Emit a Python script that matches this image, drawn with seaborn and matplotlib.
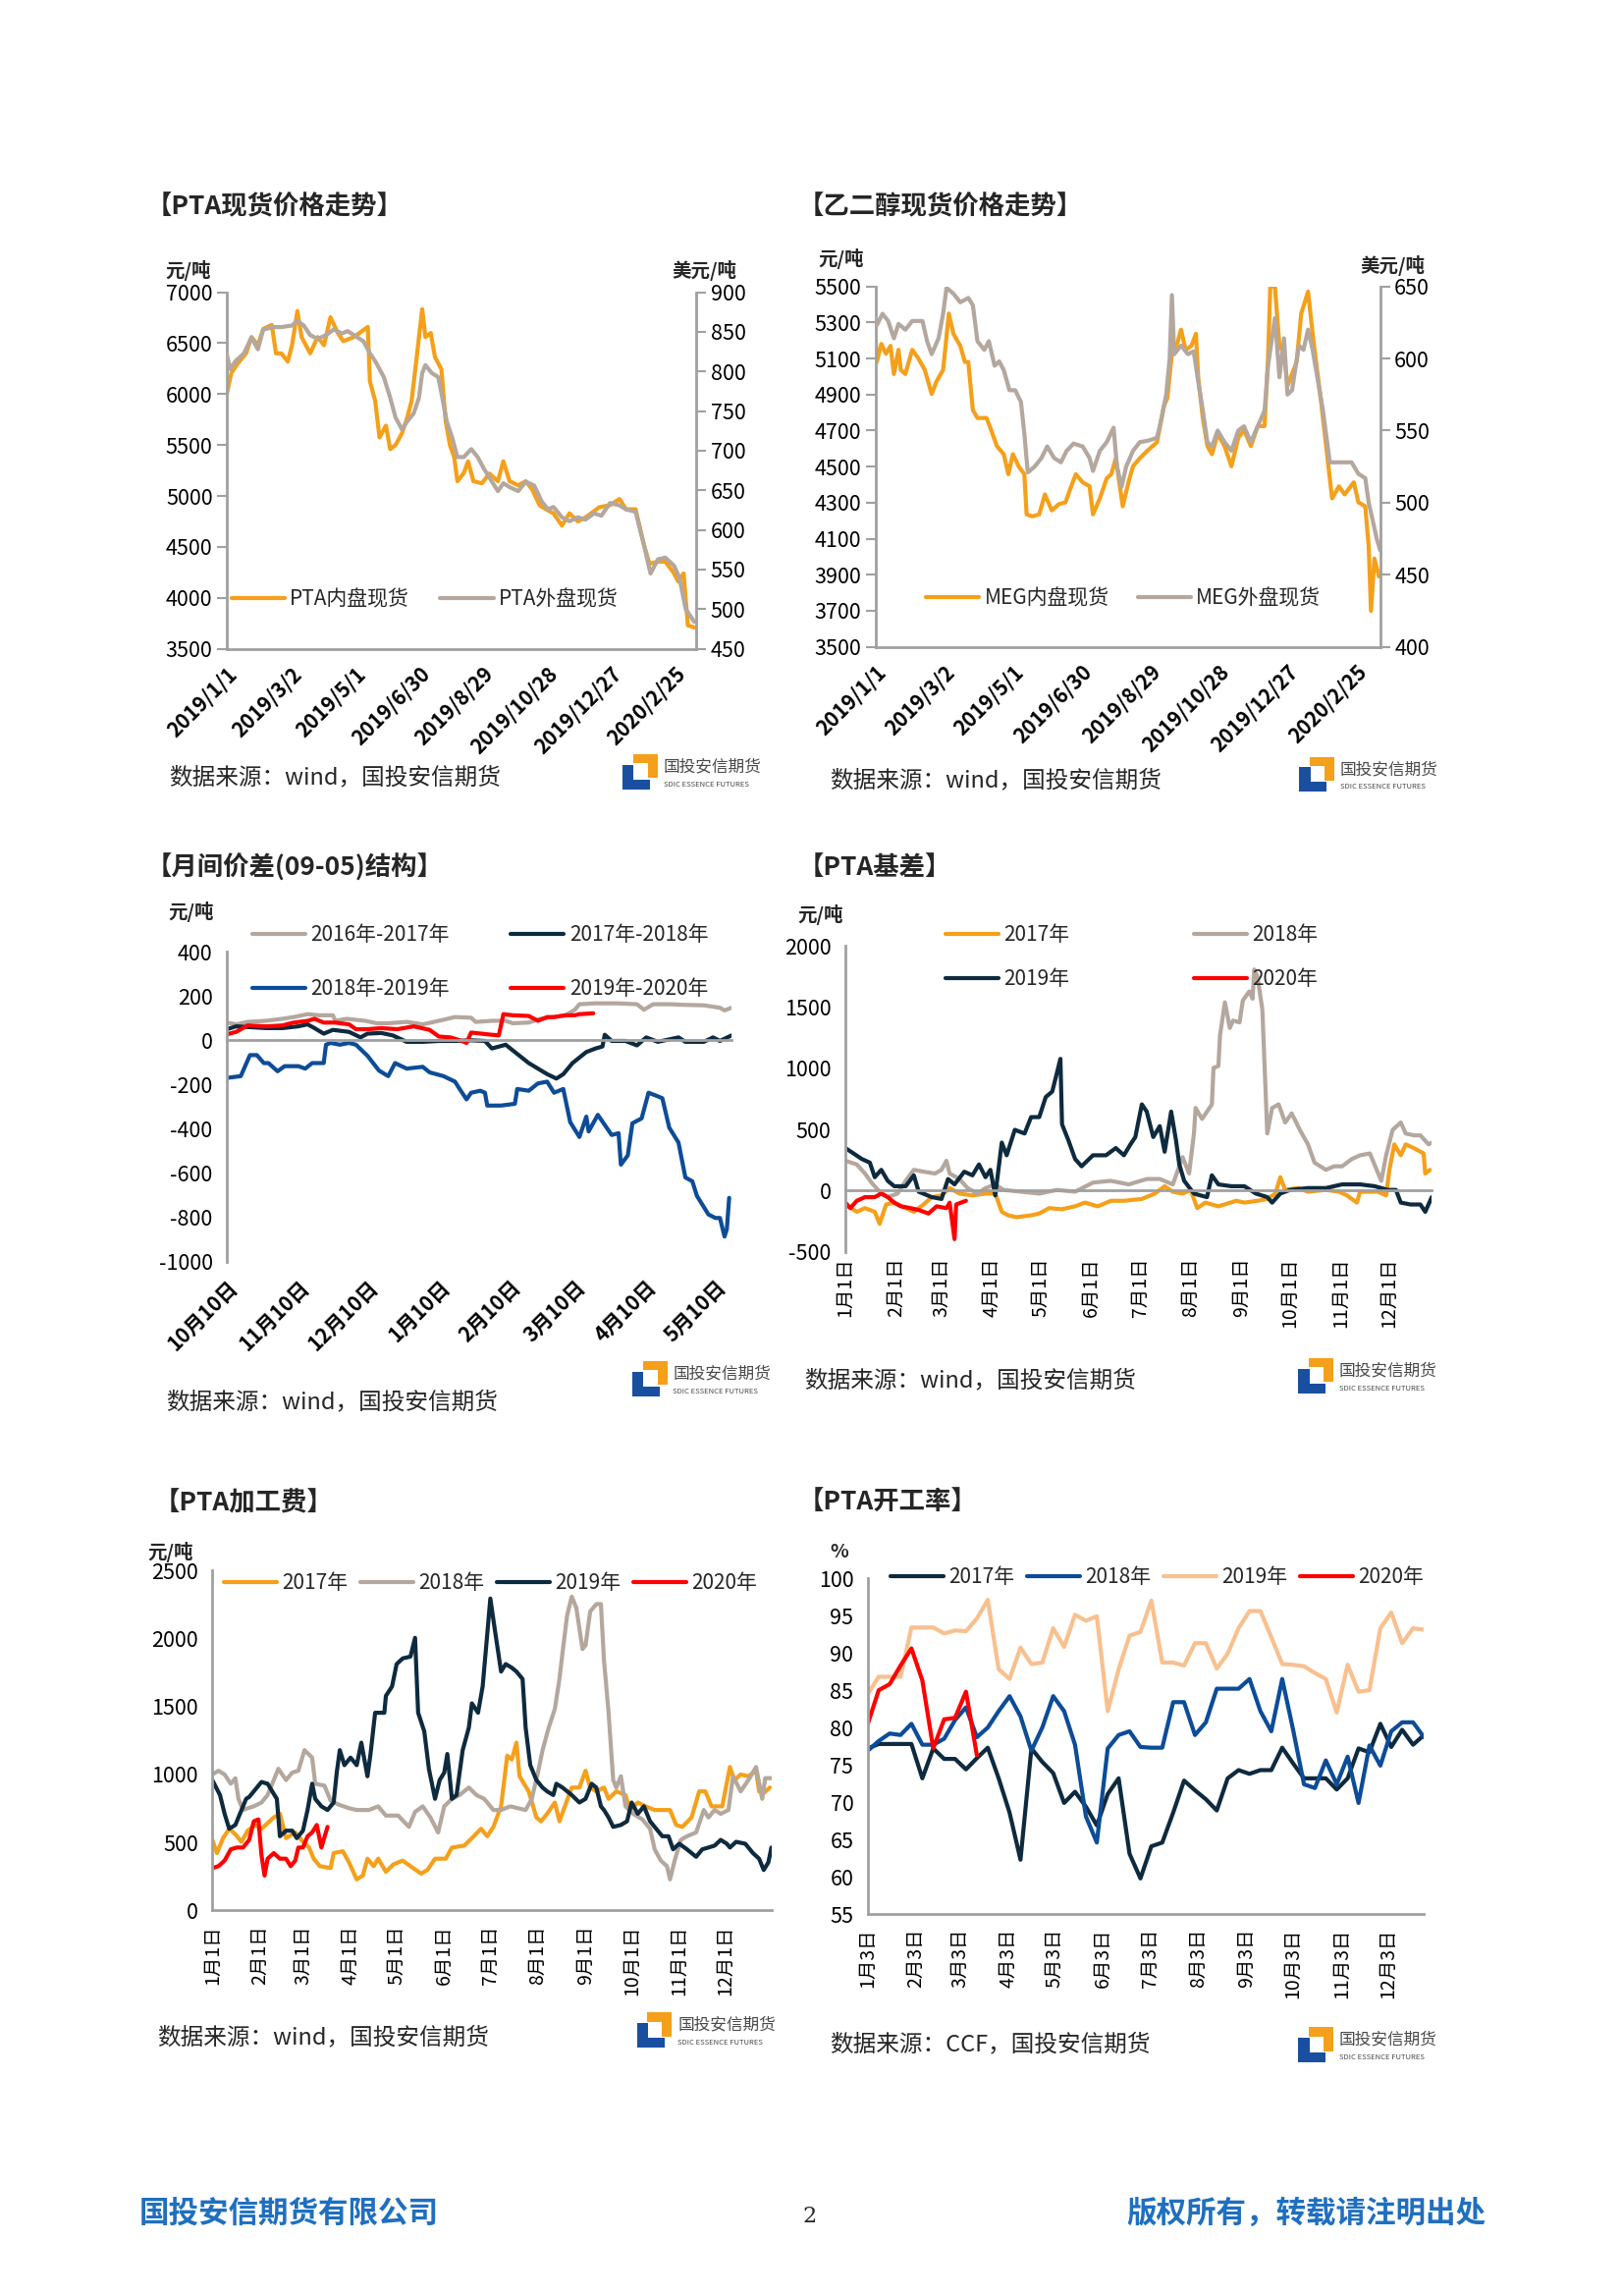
import matplotlib
matplotlib.use('Agg')
import matplotlib.pyplot as plt
from matplotlib.patches import Rectangle
import seaborn as sns

sns.set_style('white')
plt.rcParams['font.family'] = ['Noto Sans CJK SC', 'DejaVu Sans']
plt.rcParams['axes.unicode_minus'] = False

W, H = 1652, 2338
K = 0.992  # layout coordinates below were measured slightly large
ORANGE = '#F5A01A'
TAUPE = '#B4A79E'
NAVY = '#0E2A3E'
BLUE = '#0C4C98'
RED = '#FF0000'
PEACH = '#F9C08F'
AXIS = '#A0A0A0'

# ---------------- data ----------------
# PTA spot (days since 2019-01-01)
p1_in_days = [0,4,10,18,23,29,34,42,46,51,57,61,66,70,78,85,91,97,104,109,119,132,134,139,143,149,153,158,164,169,
              173,177,180,183,186,191,195,201,205,209,213,216,222,226,231,239,246,254,259,265,273,280,286,293,299,306,314,321,329,336,
              344,349,359,368,374,383,391,396,404,411,419,423,428,432,438]
p1_in = [6009,6205,6300,6400,6560,6480,6640,6680,6400,6400,6320,6480,6815,6560,6400,6560,6480,6755,6600,6520,
         6560,6660,6127,5930,5575,5690,5460,5500,5615,5770,5930,6284,6560,6835,6560,6600,6363,6245,5735,5500,
         5380,5145,5225,5340,5145,5125,5220,5145,5340,5145,5105,5145,5065,4910,4870,4830,4710,4830,4750,4790,
         4850,4890,4910,4970,4870,4870,4515,4335,4355,4355,4240,4160,4240,3730,3710]
p1_out_days = [0,3,8,16,23,29,34,44,51,61,66,72,78,85,93,100,108,113,119,128,134,139,147,153,158,164,169,175,180,183,
               186,192,198,201,206,211,216,222,229,235,241,246,254,259,265,273,280,288,295,301,306,314,321,329,336,344,351,359,368,374,
               383,391,397,404,411,419,424,430,438]
p1_out = [821,803,813,823,843,828,853,856,856,858,864,858,846,841,846,853,848,851,846,838,
          823,813,793,767,742,727,737,747,767,798,808,798,793,773,737,717,692,692,702,692,
          677,666,649,659,654,649,661,656,636,626,629,616,611,616,613,621,618,634,631,626,
          623,580,545,563,565,555,540,500,484]
p1_xticks = ['2019/1/1', '2019/3/2', '2019/5/1', '2019/6/30', '2019/8/29', '2019/10/28', '2019/12/27', '2020/2/25']

# MEG spot
p2_in_days = [0,1,5,9,13,16,20,22,26,32,37,43,49,53,59,64,68,74,78,81,85,89,97,101,106,112,116,120,125,130,
              132,137,143,148,154,160,166,171,175,181,187,190,196,202,206,210,213,216,221,225,231,238,246,252,255,259,263,267,271,276,
              280,282,286,290,294,299,305,311,317,322,328,334,340,343,345,349,353,357,360,364,368,372,378,382,385,389,395,399,405,410,
              418,422,428,431,433,436,440]
p2_in = [5204,5081,5181,5126,5170,5014,5148,5037,5014,5148,5104,5037,4903,4970,5037,5349,5237,5170,5081,5081,
         4814,4770,4770,4703,4614,4569,4458,4569,4502,4458,4235,4224,4235,4346,4257,4291,4302,4391,4458,4413,
         4391,4235,4324,4435,4458,4547,4413,4280,4413,4502,4547,4591,4636,4836,4881,5126,5170,5260,5148,5170,
         5237,4992,4770,4614,4569,4681,4614,4502,4659,4703,4614,4725,4725,5104,5500,5500,5170,5126,4948,5014,
         5081,5349,5471,5237,5081,4881,4547,4324,4391,4346,4413,4302,4280,4057,3700,3990,3890]
p2_out_days = [0,1,6,11,16,20,26,32,41,45,49,55,59,62,68,74,81,85,89,95,99,104,108,112,117,122,127,130,133,139,
               145,150,156,162,167,173,181,187,190,196,202,208,211,215,219,225,231,238,246,250,254,257,259,261,267,273,278,282,286,290,
               294,299,305,311,317,322,328,334,340,343,349,353,357,360,364,370,374,378,382,385,391,397,403,408,416,422,428,431,435,438,441]
p2_out = [628,623,631,626,614,624,620,626,626,612,603,614,631,649,645,639,642,637,612,606,
          612,595,598,592,578,578,570,548,521,525,531,539,531,528,536,541,539,531,522,536,
          542,552,525,511,525,536,542,543,545,559,575,600,644,603,609,603,605,584,564,542,
          539,550,542,536,550,553,542,553,564,595,628,587,614,575,578,609,606,620,606,592,
          564,528,528,528,528,520,517,500,486,475,467]

# 09-05 spread (days since Oct 10)
p3_a_days = [0,4,9,17,24,29,35,40,46,47,52,60,65,70,78,85,92,99,106,108,115,121,124,131,136,142,147,151,153,160,
             169,178,181,185,192,199,207,214,216,219]
p3_a = [80,72,83,88,97,105,118,113,113,88,97,88,77,77,83,72,88,105,102,83,88,88,77,80,97,105,113,138,163,167,
        167,163,138,163,163,160,158,147,135,147]
p3_b_days = [0,4,9,17,24,31,35,38,42,46,53,58,61,67,72,78,85,92,99,106,112,115,121,124,131,139,143,146,150,153,
             156,160,163,164,167,173,178,182,187,196,199,207,211,214,219]
p3_b = [50,63,60,55,55,63,72,55,30,47,38,13,30,33,22,-7,-7,-3,-3,0,-3,-37,-20,-45,-103,-153,-173,-153,-103,-78,
        -53,-37,-28,25,-3,-3,-23,13,-7,13,-7,-7,13,-3,22]
p3_c_days = [0,6,10,13,16,18,22,25,31,34,37,42,43,45,49,53,56,61,66,70,73,78,85,88,94,99,101,104,106,110,
             112,113,119,125,126,131,135,139,142,146,149,153,156,157,161,167,170,171,174,176,180,183,187,189,192,196,199,202,204,209,
             212,214,216,217,218]
p3_c = [-170,-162,-67,-67,-103,-103,-140,-117,-117,-128,-103,-103,-20,-12,-20,-12,-20,-70,-137,-162,
        -103,-128,-120,-145,-162,-187,-220,-267,-237,-228,-237,-295,-295,-287,-220,-228,-195,-187,-237,-220,
        -370,-437,-345,-412,-337,-428,-420,-562,-520,-375,-353,-237,-253,-262,-395,-462,-620,-637,-703,-787,
        -803,-803,-887,-853,-712]
p3_d_days = [0,4,9,17,24,29,35,38,42,47,53,56,61,67,74,81,88,92,97,102,104,106,113,118,120,124,131,135,139,142,147,151,153,159]
p3_d = [27,38,67,63,67,80,88,97,80,80,72,50,50,55,50,63,47,17,13,-3,-12,35,27,22,118,113,110,88,105,105,113,113,118,122]
p3_xticks = ['10月10日', '11月10日', '12月10日', '1月10日', '2月10日', '3月10日', '4月10日', '5月10日']
p3_xpos = [0, 31, 61, 92, 123, 151, 182, 212]

# PTA basis (day of year)
p4_17_days = [0,7,12,18,21,25,30,37,42,48,53,59,64,70,78,86,92,96,100,105,114,119,125,133,141,147,155,163,171,182,
              190,196,201,207,212,216,221,229,240,245,253,259,264,267,270,278,284,295,303,308,314,316,327,332,334,337,341,344,349,355,356,359]
p4_17 = [-113,-173,-143,-173,-271,-113,-98,-143,-173,-113,-53,-39,21,-24,-39,-24,-24,-173,-202,-217,
         -202,-187,-143,-152,-128,-98,-128,-83,-83,-68,-24,36,-9,-24,6,-143,-98,-128,-83,-98,
         -83,-68,-24,110,6,21,-9,6,-9,-39,-98,-9,-9,-39,170,378,289,378,348,304,140,170]
p4_18_days = [0,7,12,16,21,26,32,37,42,48,55,59,62,64,70,75,81,86,92,97,108,119,130,141,152,163,174,185,193,201,
              207,211,214,215,219,225,226,229,230,233,236,238,242,244,248,250,251,253,256,259,262,266,270,274,279,284,288,295,300,305,
              311,316,322,329,332,336,341,344,349,353,358,360]
p4_18 = [244,214,140,66,-9,-53,-24,80,170,155,140,170,244,140,95,21,-24,21,51,6,-9,-24,6,-9,66,80,51,95,95,51,
         274,140,467,676,586,705,1003,1018,1271,1539,1330,1390,1375,1554,1628,1568,1807,1747,1479,467,
         676,705,557,631,497,378,229,170,199,199,259,289,304,80,289,497,557,467,452,452,378,393]
p4_19_days = [0,5,10,15,18,22,26,30,37,42,45,53,59,63,67,73,78,82,86,89,92,96,99,104,110,114,119,123,127,132,
              133,137,141,145,152,160,166,171,175,178,182,185,189,193,196,200,203,205,208,214,218,222,225,229,237,245,252,259,262,267,
              273,284,295,305,316,325,333,338,341,347,353,356,360]
p4_19 = [348,304,259,229,110,170,80,36,36,125,-9,-53,-68,95,51,155,125,214,110,170,
         -39,393,289,497,467,601,601,765,810,1077,542,408,259,199,289,289,348,289,378,438,
         705,646,438,527,318,646,408,214,80,-24,-39,-53,125,51,36,36,-24,-53,-98,-24,
         6,21,21,51,51,36,6,6,-98,-113,-113,-173,-53]
p4_20_days = [0,3,7,12,18,22,26,30,34,40,45,51,56,62,64,67,68,71,74]
p4_20 = [-98,-143,-83,-53,-53,-24,-53,-98,-128,-143,-158,-187,-128,-143,-98,-396,-113,-98,-83]
month_pos = [0, 31, 59, 90, 120, 151, 181, 212, 243, 273, 304, 334]
p4_xticks = ['1月1日', '2月1日', '3月1日', '4月1日', '5月1日', '6月1日', '7月1日', '8月1日', '9月1日', '10月1日', '11月1日', '12月1日']

# PTA processing fee
p5_17_days = [0,3,7,11,15,19,23,28,32,36,40,44,48,54,59,63,66,70,77,79,85,89,94,98,101,105,108,113,118,124,
              129,136,140,145,152,156,164,169,175,179,183,188,192,195,198,200,206,211,214,218,223,226,230,234,239,243,246,250,255,258,
              263,269,272,277,282,288,293,298,302,306,312,317,321,325,332,337,340,344,349,354,356,359,363]
p5_17 = [518,421,531,600,559,504,586,628,600,641,683,710,531,573,504,462,380,325,311,421,
         435,352,228,256,380,325,380,284,339,366,325,270,297,380,380,462,476,531,600,545,
         614,765,1137,1109,1233,986,875,683,655,710,793,655,779,903,903,1027,903,875,903,820,
         875,848,738,793,765,738,738,738,628,614,683,875,875,765,765,1054,958,999,986,1027,875,862,903]
p5_18_days = [0,4,8,12,15,17,20,23,27,32,36,39,43,48,52,56,60,65,67,73,77,82,89,94,102,108,113,121,128,132,
              137,142,147,151,156,161,167,172,177,183,188,194,199,204,208,212,215,219,223,226,228,231,234,237,241,243,246,250,253,255,
              258,261,263,266,269,274,280,285,288,292,296,298,301,305,309,315,320,323,327,331,336,339,344,349,354,358,360,364]
p5_18 = [999,1027,999,931,972,820,738,751,765,793,848,931,1041,958,1013,1027,1178,1123,931,917,
         807,779,751,738,738,765,697,697,614,724,765,683,573,765,820,848,903,848,820,738,
         738,765,751,738,820,1013,1178,1343,1481,1701,1894,2169,2307,2224,1922,1949,2197,2252,2252,1839,
         1453,958,903,986,765,710,669,600,449,366,325,228,366,518,545,573,738,683,738,710,
         738,986,875,958,1054,820,972,972]
p5_19_days = [0,5,8,11,15,19,22,24,28,32,36,39,42,44,48,52,55,59,62,65,67,71,75,79,81,83,86,90,94,97,
              101,103,106,112,113,117,120,124,129,132,134,138,141,145,148,151,153,156,159,163,167,169,173,176,179,181,184,188,191,195,
              198,202,204,207,211,215,218,222,224,228,234,239,243,247,250,253,255,258,261,266,270,273,277,281,285,289,293,297,300,304,
              309,315,319,323,327,331,335,337,341,347,352,356,359,362,364]
p5_19 = [958,848,710,600,628,738,820,834,889,944,931,875,820,545,586,586,531,586,738,931,
         820,765,738,793,1013,1178,1068,1123,1068,1233,986,1150,1453,1453,1577,1646,1811,1853,1866,2004,
         1453,1316,1041,820,958,1013,1150,820,848,1178,1343,1522,1453,1646,2032,2293,2059,1756,1811,1784,
         1756,1701,1343,1068,958,903,875,848,931,903,848,793,820,931,903,765,738,683,614,628,
         655,793,710,765,655,600,545,545,449,490,449,394,449,462,476,518,490,462,504,490,421,380,297,352,462]
p5_20_days = [0,4,8,12,16,20,24,27,30,32,34,36,40,44,48,51,54,56,59,62,65,68,71,75]
p5_20 = [311,325,366,449,462,462,518,655,669,407,256,380,421,380,380,325,366,462,462,545,573,628,462,614]

# PTA operating rate, weekly
p6_17 = [77.2,77.8,77.8,77.8,77.8,73.2,77.2,75.8,75.8,74.4,75.9,77.3,73.2,68.6,62.3,77.2,75.4,73.9,69.9,71.4,
         69.4,66.9,71.1,73.2,63.1,59.8,64.1,64.6,68.6,72.9,71.6,70.4,68.9,73.2,74.3,73.8,74.3,74.3,77.3,75.2,
         73.2,73.2,73.2,71.7,73.2,77.2,76.7,80.5,77.4,79.7,77.7,79.0]
p6_18 = [76.9,78.2,79.2,79.0,80.5,77.7,77.7,78.5,81.0,82.7,78.7,80.0,82.2,84.2,81.5,76.9,80.0,84.2,82.2,77.7,
         68.1,64.6,77.2,79.0,79.5,77.4,77.3,77.3,83.4,83.4,79.0,80.7,85.2,85.2,85.2,86.5,82.2,79.5,86.5,79.7,
         72.4,71.9,75.6,72.4,76.1,69.9,77.6,74.9,79.5,80.7,80.7,78.7]
p6_19 = [84.5,86.8,86.8,86.8,93.4,93.4,93.4,92.6,93.0,92.9,94.6,97.1,87.8,86.5,90.7,88.5,88.7,93.3,90.8,95.1,
         94.3,94.9,82.2,87.8,92.3,92.8,97.0,88.7,88.7,88.3,91.3,91.3,87.9,89.9,93.3,95.6,95.6,92.1,88.5,88.4,
         88.2,87.3,86.5,82.0,88.4,84.8,85.0,93.3,95.4,91.3,93.3,93.1]
p6_20 = [80.5,85.0,85.8,88.3,90.6,86.3,77.2,81.1,81.3,84.8,76.3]
p6_xticks = ['1月3日', '2月3日', '3月3日', '4月3日', '5月3日', '6月3日', '7月3日', '8月3日', '9月3日', '10月3日', '11月3日', '12月3日']

# ---------------- helpers ----------------
fig = plt.figure(figsize=(W / 100, H / 100), dpi=100)


def make_ax(l, t, r, b):
    l, t, r, b = l * K, t * K, r * K, b * K
    return fig.add_axes([l / W, 1 - b / H, (r - l) / W, (b - t) / H])


def ftext(x, y, s, **kw):
    fig.text(x * K / W, 1 - y * K / H, s, **kw)


def draw(ax, x, y, c):
    sns.lineplot(x=x, y=y, ax=ax, color=c, linewidth=3.0, estimator=None, sort=False, legend=False)
    return ax.lines[-1]


def base(ax, ylim, yticks):
    ax.set_ylim(*ylim)
    ax.set_yticks(yticks)
    for s in ['top', 'right']:
        ax.spines[s].set_visible(False)
    for s in ['left', 'bottom']:
        ax.spines[s].set_color(AXIS)
        ax.spines[s].set_linewidth(2)
    ax.tick_params(axis='both', colors=AXIS, labelcolor='black', labelsize=15.5,
                   length=7, width=1.5, direction='out')
    ax.set_xlabel('')
    ax.set_ylabel('')


def right_axis(ax2, ylim, yticks):
    ax2.set_ylim(*ylim)
    ax2.set_yticks(yticks)
    for s in ['top', 'left', 'bottom']:
        ax2.spines[s].set_visible(False)
    ax2.spines['right'].set_color(AXIS)
    ax2.spines['right'].set_linewidth(2)
    ax2.tick_params(axis='y', colors=AXIS, labelcolor='black', labelsize=15.5, length=7, width=1.5)
    ax2.set_ylabel('')


def rect(x, y, w, h, c):
    x, y, w, h = x * K, y * K, w * K, h * K
    fig.add_artist(Rectangle((x / W, 1 - (y + h) / H), w / W, h / H,
                             transform=fig.transFigure, color=c, lw=0))


def logo(x0, y0):
    s = 36
    rect(x0, y0 + 0.3 * s, 0.32 * s, 0.7 * s, '#1A4FA0')
    rect(x0, y0 + 0.72 * s, 0.78 * s, 0.28 * s, '#1A4FA0')
    rect(x0 + 0.3 * s, y0, 0.7 * s, 0.26 * s, ORANGE)
    rect(x0 + 0.72 * s, y0, 0.28 * s, 0.68 * s, ORANGE)
    ftext(x0 + s + 6, y0 + 0.36 * s, '国投安信期货', fontsize=12, color='#4a4a4a', va='center')
    ftext(x0 + s + 6, y0 + 0.86 * s, 'SDIC ESSENCE FUTURES', fontsize=5.5, color='#4a4a4a', va='center')


def legend(ax, handles, labels, ncol, anchor, colsp, rowsp=0.5):
    ax.legend(handles, labels, ncol=ncol, loc='upper left', bbox_to_anchor=anchor, frameon=False,
              fontsize=15, handlelength=2.6, handletextpad=0.25, columnspacing=colsp,
              labelspacing=rowsp, borderaxespad=0, borderpad=0)


def zero_axis(ax, ymin, ymax):
    # x axis drawn along y=0, labels kept at the bottom
    ax.spines['bottom'].set_position(('data', 0))
    hpts = ax.get_position().height * H * 0.72
    return (0 - ymin) / (ymax - ymin) * hpts + 4


TITLE = dict(fontsize=19, fontweight='bold', va='center')
UNIT = dict(fontsize=14, fontweight='bold', va='center')
SRC = dict(fontsize=17, va='center')

# ---------------- panel 1: PTA spot ----------------
ax = make_ax(233, 300, 715, 666)
ax2 = ax.twinx()
l1 = draw(ax, p1_in_days, p1_in, ORANGE)
l2 = draw(ax2, p1_out_days, p1_out, TAUPE)
base(ax, (3500, 7000), range(3500, 7001, 500))
right_axis(ax2, (450, 900), range(450, 901, 50))
ax.set_xlim(0, 440)
ax.set_xticks(range(0, 421, 60))
ax.set_xticklabels(p1_xticks, rotation=45, ha='right', rotation_mode='anchor', fontweight='bold', fontsize=15)
legend(ax2, [l1, l2], ['PTA内盘现货', 'PTA外盘现货'], 2, (0.01, 0.17), 1.5)
ftext(150, 213, '【PTA现货价格走势】', **TITLE)
ftext(170, 278, '元/吨', **UNIT)
ftext(690, 278, '美元/吨', **UNIT)
ftext(173, 798, '数据来源：wind，国投安信期货', **SRC)
logo(639, 774)

# ---------------- panel 2: MEG spot ----------------
ax = make_ax(899, 294, 1417, 664)
ax2 = ax.twinx()
l1 = draw(ax, p2_in_days, p2_in, ORANGE)
l2 = draw(ax2, p2_out_days, p2_out, TAUPE)
base(ax, (3500, 5500), range(3500, 5501, 200))
right_axis(ax2, (400, 650), range(400, 651, 50))
ax.set_xlim(0, 441)
ax.set_xticks(range(0, 421, 60))
ax.set_xticklabels(p1_xticks, rotation=45, ha='right', rotation_mode='anchor', fontweight='bold', fontsize=15)
legend(ax2, [l1, l2], ['MEG内盘现货', 'MEG外盘现货'], 2, (0.1, 0.165), 1.4)
ftext(819, 213, '【乙二醇现货价格走势】', **TITLE)
ftext(840, 266, '元/吨', **UNIT)
ftext(1397, 273, '美元/吨', **UNIT)
ftext(852, 801, '数据来源：wind，国投安信期货', **SRC)
logo(1334, 777)

# ---------------- panel 3: spread ----------------
ax = make_ax(233, 977, 751, 1295)
la = draw(ax, p3_a_days, p3_a, TAUPE)
lb = draw(ax, p3_b_days, p3_b, NAVY)
lc = draw(ax, p3_c_days, p3_c, BLUE)
ld = draw(ax, p3_d_days, p3_d, RED)
base(ax, (-1000, 400), range(-1000, 401, 200))
ax.set_xlim(0, 219)
pad = zero_axis(ax, -1000, 400)
ax.set_xticks(p3_xpos)
ax.set_xticklabels(p3_xticks, rotation=45, ha='right', rotation_mode='anchor', fontweight='bold', fontsize=15)
ax.tick_params(axis='x', pad=pad)
legend(ax, [la, lc, lb, ld], ['2016年-2017年', '2018年-2019年', '2017年-2018年', '2019年-2020年'],
       2, (0.05, 1.09), 3.0, 1.6)
ftext(150, 891, '【月间价差(09-05)结构】', **TITLE)
ftext(173, 936, '元/吨', **UNIT)
ftext(170, 1439, '数据来源：wind，国投安信期货', **SRC)
logo(649, 1397)

# ---------------- panel 4: basis ----------------
ax = make_ax(868, 971, 1470, 1285)
l17 = draw(ax, p4_17_days, p4_17, ORANGE)
l18 = draw(ax, p4_18_days, p4_18, TAUPE)
l19 = draw(ax, p4_19_days, p4_19, NAVY)
l20 = draw(ax, p4_20_days, p4_20, RED)
base(ax, (-500, 2000), range(-500, 2001, 500))
ax.set_xlim(0, 360)
pad = zero_axis(ax, -500, 2000)
ax.set_xticks(month_pos)
ax.set_xticklabels(p4_xticks, rotation=90, ha='center', va='top', fontsize=14)
ax.tick_params(axis='x', pad=pad, length=0)
legend(ax, [l17, l19, l18, l20], ['2017年', '2019年', '2018年', '2020年'], 2, (0.17, 1.07), 6.1, 1.1)
ftext(819, 891, '【PTA基差】', **TITLE)
ftext(819, 939, '元/吨', **UNIT)
ftext(826, 1417, '数据来源：wind，国投安信期货', **SRC)
logo(1333, 1394)

# ---------------- panel 5: processing fee ----------------
ax = make_ax(218, 1612, 792, 1961)
l17 = draw(ax, p5_17_days, p5_17, ORANGE)
l18 = draw(ax, p5_18_days, p5_18, TAUPE)
l19 = draw(ax, p5_19_days, p5_19, NAVY)
l20 = draw(ax, p5_20_days, p5_20, RED)
base(ax, (0, 2500), range(0, 2501, 500))
ax.set_xlim(0, 364)
ax.set_xticks(month_pos)
ax.set_xticklabels(p4_xticks, rotation=90, ha='center', va='top', fontsize=14)
legend(ax, [l17, l18, l19, l20], ['2017年', '2018年', '2019年', '2020年'], 4, (0.02, 0.995), 0.6)
ftext(158, 1543, '【PTA加工费】', **TITLE)
ftext(152, 1593, '元/吨', **UNIT)
ftext(161, 2092, '数据来源：wind，国投安信期货', **SRC)
logo(654, 2066)

# ---------------- panel 6: operating rate ----------------
ax = make_ax(891, 1620, 1462, 1965)
wk = [7 * i for i in range(len(p6_17))]
l17 = draw(ax, wk, p6_17, NAVY)
l18 = draw(ax, wk, p6_18, BLUE)
l19 = draw(ax, wk, p6_19, PEACH)
l20 = draw(ax, wk[:len(p6_20)], p6_20, RED)
base(ax, (55, 100), range(55, 101, 5))
ax.set_xlim(0, 357)
ax.set_xticks(month_pos)
ax.set_xticklabels(p6_xticks, rotation=90, ha='center', va='top', fontsize=14)
legend(ax, [l17, l18, l19, l20], ['2017年', '2018年', '2019年', '2020年'], 4, (0.04, 1.035), 0.6)
ftext(819, 1543, '【PTA开工率】', **TITLE)
ftext(852, 1593, '%', **UNIT)
ftext(852, 2099, '数据来源：CCF，国投安信期货', **SRC)
logo(1333, 2081)

# ---------------- footer ----------------
ftext(143, 2272, '国投安信期货有限公司', fontsize=22, fontweight='bold', color='#1F6FC0', va='center')
ftext(831, 2275, '2', fontsize=16, family='DejaVu Serif', ha='center', va='center')
ftext(1525, 2272, '版权所有，转载请注明出处', fontsize=22, fontweight='bold', color='#1F6FC0', va='center', ha='right')

fig.savefig('out.png', dpi=100, facecolor='white')
